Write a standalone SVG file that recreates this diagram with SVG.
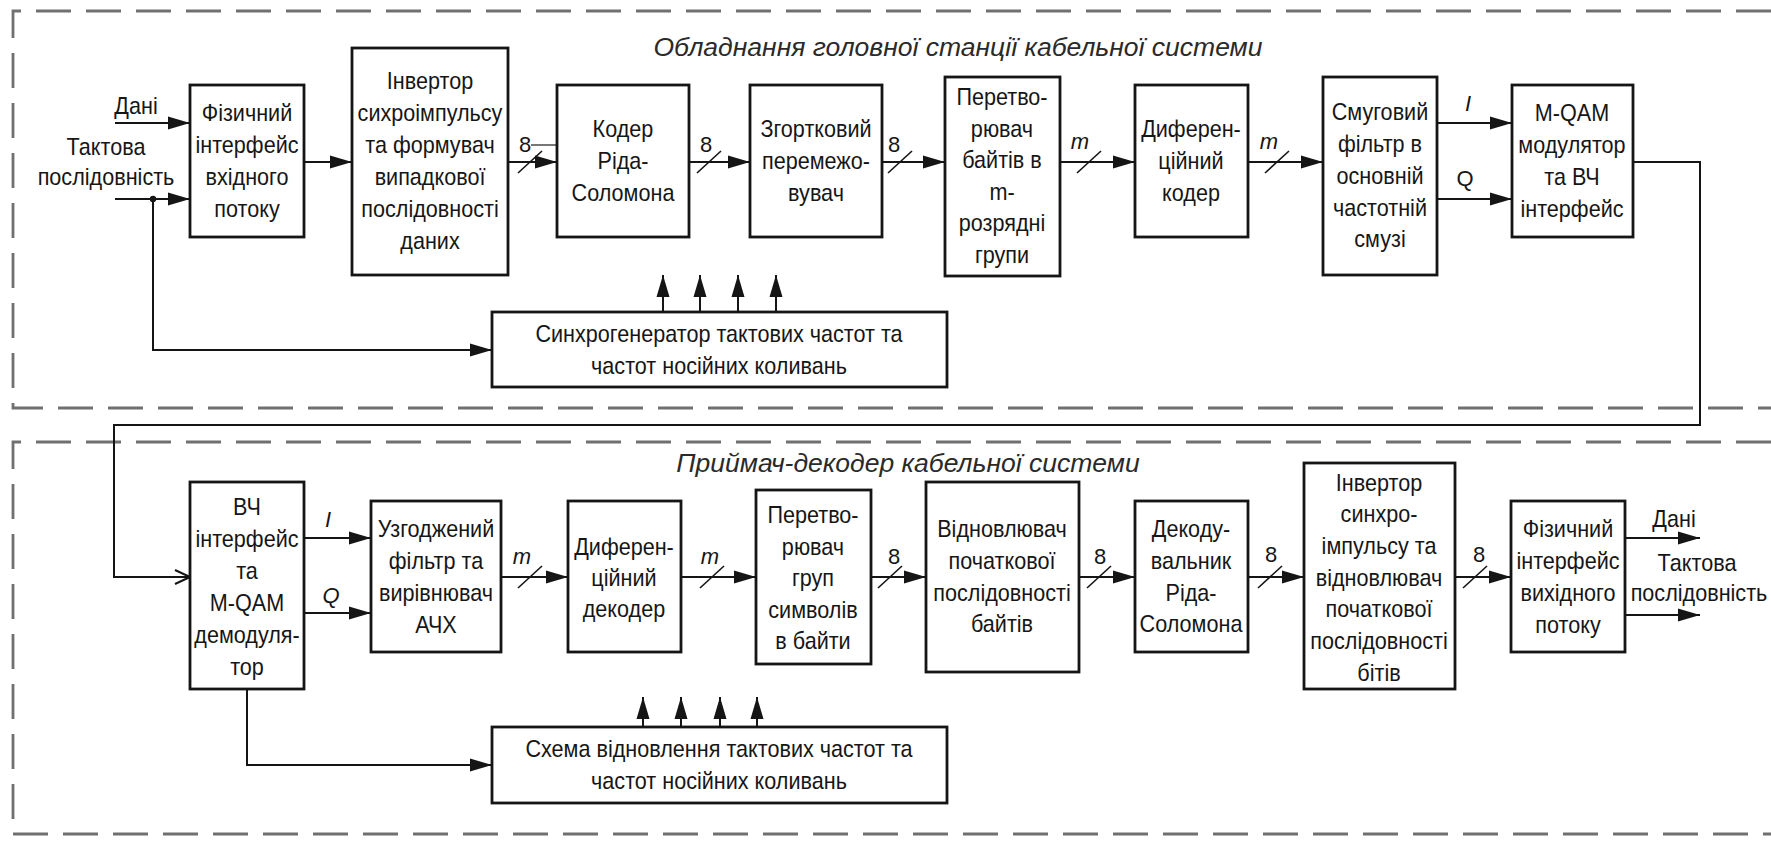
<svg xmlns="http://www.w3.org/2000/svg" width="1771" height="841" viewBox="0 0 1771 841">
  <style>
    .bg { fill: #ffffff; }
    .frame { fill: none; stroke: #707070; stroke-width: 2.8; stroke-dasharray: 35 15; }
    .box { fill: #ffffff; stroke: #151515; stroke-width: 2.8; }
    .wire { fill: none; stroke: #151515; stroke-width: 2; }
    .arr { marker-end: url(#ah); }
    .slash { stroke: #151515; stroke-width: 1.6; }
    .t { font-family: "Liberation Sans", Arial, sans-serif; font-size: 24px; text-anchor: middle; fill: #161616;
         transform-box: fill-box; transform-origin: center; transform: scaleX(0.9); }
    .l { font-family: "Liberation Sans", Arial, sans-serif; font-size: 22px; text-anchor: middle; fill: #161616; }
    .it { font-style: italic; }
    .h { font-family: "Liberation Sans", Arial, sans-serif; font-size: 26.5px; font-style: italic; text-anchor: middle; fill: #2a2a2a; }
  </style>
  <defs>
    <marker id="ah" markerUnits="userSpaceOnUse" markerWidth="22" markerHeight="14" refX="22" refY="7" orient="auto">
      <path d="M0,0.5 L22,7 L0,13.5 Z" fill="#151515"/>
    </marker>
    <marker id="open" markerUnits="userSpaceOnUse" markerWidth="18" markerHeight="18" refX="16" refY="9" orient="auto">
      <path d="M1,2 L16,9 L1,16" fill="none" stroke="#151515" stroke-width="2"/>
    </marker>
  </defs>

  <rect class="bg" x="0" y="0" width="1771" height="841"/>

  <!-- section frames (open on the right side) -->
  <g id="frames">
    <path class="frame" d="M1771,11 H13 V408 H1771"/>
    <path class="frame" d="M1771,442 H13 V834 H1771"/>
    <text class="h" x="958" y="56">Обладнання головної станції кабельної системи</text>
    <text class="h" x="908" y="472">Приймач-декодер кабельної системи</text>
  </g>

  <!-- connectors -->
  <g id="connectors">
    <!-- transmitter inputs -->
    <line class="wire arr" x1="115" y1="123" x2="190" y2="123"/>
    <line class="wire arr" x1="115" y1="199" x2="190" y2="199"/>
    <circle cx="153" cy="199" r="3.2" fill="#151515"/>
    <polyline class="wire arr" points="153,199 153,350 492,350"/>
    <text class="t" x="136" y="114">Дані</text>
    <text class="t" x="106" y="155">Тактова</text>
    <text class="t" x="106" y="185">послідовність</text>

    <!-- transmitter chain -->
    <line class="wire arr" x1="304" y1="162" x2="352" y2="162"/>
    <line class="wire arr" x1="508" y1="162" x2="557" y2="162"/>
    <line class="slash" x1="518" y1="173" x2="542" y2="151"/>
    <line x1="531" y1="145" x2="557" y2="145" stroke="#777" stroke-width="2"/>
    <text class="l" x="525" y="152">8</text>

    <line class="wire arr" x1="689" y1="162" x2="750" y2="162"/>
    <line class="slash" x1="697" y1="173" x2="721" y2="151"/>
    <text class="l" x="706" y="152">8</text>

    <line class="wire arr" x1="882" y1="162" x2="945" y2="162"/>
    <line class="slash" x1="888" y1="173" x2="912" y2="151"/>
    <text class="l" x="894" y="152">8</text>

    <line class="wire arr" x1="1060" y1="162" x2="1135" y2="162"/>
    <line class="slash" x1="1077" y1="173" x2="1101" y2="151"/>
    <text class="l it" x="1080" y="149">m</text>

    <line class="wire arr" x1="1248" y1="162" x2="1323" y2="162"/>
    <line class="slash" x1="1265" y1="173" x2="1289" y2="151"/>
    <text class="l it" x="1269" y="149">m</text>

    <line class="wire arr" x1="1437" y1="123" x2="1512" y2="123"/>
    <text class="l it" x="1468" y="111">I</text>
    <line class="wire arr" x1="1437" y1="199" x2="1512" y2="199"/>
    <text class="l" x="1465" y="186">Q</text>

    <!-- clock tree, transmitter -->
    <line class="wire arr" x1="663" y1="312" x2="663" y2="275"/>
    <line class="wire arr" x1="700" y1="312" x2="700" y2="275"/>
    <line class="wire arr" x1="738" y1="312" x2="738" y2="275"/>
    <line class="wire arr" x1="776" y1="312" x2="776" y2="275"/>

    <!-- cable link to the receiver -->
    <polyline class="wire" points="1633,162 1700,162 1700,425 114,425 114,577 190,577" marker-end="url(#open)"/>

    <!-- receiver chain -->
    <line class="wire arr" x1="304" y1="538" x2="371" y2="538"/>
    <text class="l it" x="328" y="527">I</text>
    <line class="wire arr" x1="304" y1="613" x2="371" y2="613"/>
    <text class="l it" x="331" y="603">Q</text>

    <line class="wire arr" x1="501" y1="577" x2="568" y2="577"/>
    <line class="slash" x1="518" y1="588" x2="542" y2="566"/>
    <text class="l it" x="522" y="564">m</text>

    <line class="wire arr" x1="681" y1="577" x2="756" y2="577"/>
    <line class="slash" x1="700" y1="588" x2="724" y2="566"/>
    <text class="l it" x="710" y="564">m</text>

    <line class="wire arr" x1="871" y1="577" x2="926" y2="577"/>
    <line class="slash" x1="878" y1="588" x2="902" y2="566"/>
    <text class="l" x="894" y="564">8</text>

    <line class="wire arr" x1="1079" y1="577" x2="1135" y2="577"/>
    <line class="slash" x1="1087" y1="588" x2="1111" y2="566"/>
    <text class="l" x="1100" y="564">8</text>

    <line class="wire arr" x1="1248" y1="577" x2="1304" y2="577"/>
    <line class="slash" x1="1258" y1="588" x2="1282" y2="566"/>
    <text class="l" x="1271" y="562">8</text>

    <line class="wire arr" x1="1455" y1="577" x2="1511" y2="577"/>
    <line class="slash" x1="1463" y1="588" x2="1487" y2="566"/>
    <text class="l" x="1479" y="562">8</text>

    <!-- receiver outputs -->
    <line class="wire arr" x1="1625" y1="538" x2="1700" y2="538"/>
    <line class="wire arr" x1="1625" y1="615" x2="1700" y2="615"/>
    <text class="t" x="1674" y="527">Дані</text>
    <text class="t" x="1697" y="571">Тактова</text>
    <text class="t" x="1699" y="601">послідовність</text>

    <!-- clock recovery -->
    <polyline class="wire arr" points="247,689 247,765 492,765"/>
    <line class="wire arr" x1="643" y1="727" x2="643" y2="697"/>
    <line class="wire arr" x1="681" y1="727" x2="681" y2="697"/>
    <line class="wire arr" x1="720" y1="727" x2="720" y2="697"/>
    <line class="wire arr" x1="757" y1="727" x2="757" y2="697"/>
  </g>

  <!-- transmitter blocks -->
  <g id="phy-in">
    <rect class="box" x="190" y="85" width="114" height="152"/>
    <text class="t" x="247" y="121">Фізичний</text>
    <text class="t" x="247" y="153">інтерфейс</text>
    <text class="t" x="247" y="185">вхідного</text>
    <text class="t" x="247" y="217">потоку</text>
  </g>
  <g id="scrambler">
    <rect class="box" x="352" y="48" width="156" height="227"/>
    <text class="t" x="430" y="89">Інвертор</text>
    <text class="t" x="430" y="121">сихроімпульсу</text>
    <text class="t" x="430" y="153">та формувач</text>
    <text class="t" x="430" y="185">випадкової</text>
    <text class="t" x="430" y="217">послідовності</text>
    <text class="t" x="430" y="249">даних</text>
  </g>
  <g id="rs-encoder">
    <rect class="box" x="557" y="85" width="132" height="152"/>
    <text class="t" x="623" y="137">Кодер</text>
    <text class="t" x="623" y="169">Ріда-</text>
    <text class="t" x="623" y="201">Соломона</text>
  </g>
  <g id="interleaver">
    <rect class="box" x="750" y="85" width="132" height="152"/>
    <text class="t" x="816" y="137">Згортковий</text>
    <text class="t" x="816" y="169">перемежо-</text>
    <text class="t" x="816" y="201">вувач</text>
  </g>
  <g id="byte-to-m">
    <rect class="box" x="945" y="77" width="115" height="199"/>
    <text class="t" x="1002" y="105">Перетво-</text>
    <text class="t" x="1002" y="137">рювач</text>
    <text class="t" x="1002" y="168">байтів в</text>
    <text class="t" x="1002" y="200">m-</text>
    <text class="t" x="1002" y="231">розрядні</text>
    <text class="t" x="1002" y="263">групи</text>
  </g>
  <g id="diff-encoder">
    <rect class="box" x="1135" y="85" width="113" height="152"/>
    <text class="t" x="1191" y="137">Диферен-</text>
    <text class="t" x="1191" y="169">ційний</text>
    <text class="t" x="1191" y="201">кодер</text>
  </g>
  <g id="baseband-filter">
    <rect class="box" x="1323" y="77" width="114" height="198"/>
    <text class="t" x="1380" y="120">Смуговий</text>
    <text class="t" x="1380" y="152">фільтр в</text>
    <text class="t" x="1380" y="184">основній</text>
    <text class="t" x="1380" y="216">частотній</text>
    <text class="t" x="1380" y="247">смузі</text>
  </g>
  <g id="qam-mod">
    <rect class="box" x="1512" y="85" width="121" height="152"/>
    <text class="t" x="1572" y="121">M-QAM</text>
    <text class="t" x="1572" y="153">модулятор</text>
    <text class="t" x="1572" y="185">та ВЧ</text>
    <text class="t" x="1572" y="217">інтерфейс</text>
  </g>
  <g id="sync-gen">
    <rect class="box" x="492" y="312" width="455" height="75"/>
    <text class="t" x="719" y="342">Синхрогенератор тактових частот та</text>
    <text class="t" x="719" y="374">частот носійних коливань</text>
  </g>

  <!-- receiver blocks -->
  <g id="qam-demod">
    <rect class="box" x="190" y="482" width="114" height="207"/>
    <text class="t" x="247" y="515">ВЧ</text>
    <text class="t" x="247" y="547">інтерфейс</text>
    <text class="t" x="247" y="579">та</text>
    <text class="t" x="247" y="611">M-QAM</text>
    <text class="t" x="247" y="643">демодуля-</text>
    <text class="t" x="247" y="675">тор</text>
  </g>
  <g id="matched-filter">
    <rect class="box" x="371" y="501" width="130" height="151"/>
    <text class="t" x="436" y="537">Узгоджений</text>
    <text class="t" x="436" y="569">фільтр та</text>
    <text class="t" x="436" y="601">вирівнювач</text>
    <text class="t" x="436" y="633">АЧХ</text>
  </g>
  <g id="diff-decoder">
    <rect class="box" x="568" y="501" width="113" height="151"/>
    <text class="t" x="624" y="555">Диферен-</text>
    <text class="t" x="624" y="586">ційний</text>
    <text class="t" x="624" y="617">декодер</text>
  </g>
  <g id="m-to-byte">
    <rect class="box" x="756" y="490" width="115" height="174"/>
    <text class="t" x="813" y="523">Перетво-</text>
    <text class="t" x="813" y="555">рювач</text>
    <text class="t" x="813" y="586">груп</text>
    <text class="t" x="813" y="618">символів</text>
    <text class="t" x="813" y="649">в байти</text>
  </g>
  <g id="deinterleaver">
    <rect class="box" x="926" y="482" width="153" height="190"/>
    <text class="t" x="1002" y="537">Відновлювач</text>
    <text class="t" x="1002" y="569">початкової</text>
    <text class="t" x="1002" y="601">послідовності</text>
    <text class="t" x="1002" y="632">байтів</text>
  </g>
  <g id="rs-decoder">
    <rect class="box" x="1135" y="501" width="113" height="151"/>
    <text class="t" x="1191" y="537">Декоду-</text>
    <text class="t" x="1191" y="569">вальник</text>
    <text class="t" x="1191" y="601">Ріда-</text>
    <text class="t" x="1191" y="632">Соломона</text>
  </g>
  <g id="descrambler">
    <rect class="box" x="1304" y="463" width="151" height="226"/>
    <text class="t" x="1379" y="491">Інвертор</text>
    <text class="t" x="1379" y="522">синхро-</text>
    <text class="t" x="1379" y="554">імпульсу та</text>
    <text class="t" x="1379" y="586">відновлювач</text>
    <text class="t" x="1379" y="617">початкової</text>
    <text class="t" x="1379" y="649">послідовності</text>
    <text class="t" x="1379" y="681">бітів</text>
  </g>
  <g id="phy-out">
    <rect class="box" x="1511" y="501" width="114" height="151"/>
    <text class="t" x="1568" y="537">Фізичний</text>
    <text class="t" x="1568" y="569">інтерфейс</text>
    <text class="t" x="1568" y="601">вихідного</text>
    <text class="t" x="1568" y="633">потоку</text>
  </g>
  <g id="clock-recovery">
    <rect class="box" x="492" y="727" width="455" height="76"/>
    <text class="t" x="719" y="757">Схема відновлення тактових частот та</text>
    <text class="t" x="719" y="789">частот носійних коливань</text>
  </g>
</svg>
